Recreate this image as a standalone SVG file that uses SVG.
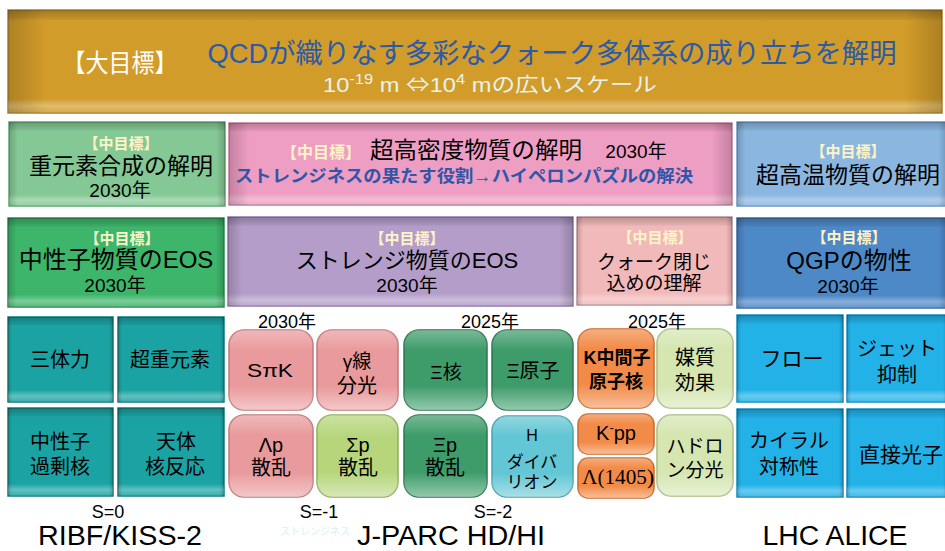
<svg xmlns="http://www.w3.org/2000/svg" width="945" height="551" viewBox="0 0 945 551">
<defs>
<linearGradient id="bv" x1="0" y1="0" x2="0" y2="1">
 <stop offset="0" stop-color="#000" stop-opacity="0.22"/>
 <stop offset="0.09" stop-color="#000" stop-opacity="0.06"/>
 <stop offset="0.12" stop-color="#fff" stop-opacity="0"/>
 <stop offset="0.86" stop-color="#fff" stop-opacity="0"/>
 <stop offset="0.93" stop-color="#fff" stop-opacity="0.32"/>
 <stop offset="1" stop-color="#fff" stop-opacity="0.12"/>
</linearGradient>
<linearGradient id="bh" x1="0" y1="0" x2="1" y2="0">
 <stop offset="0" stop-color="#000" stop-opacity="0.18"/>
 <stop offset="0.04" stop-color="#000" stop-opacity="0"/>
 <stop offset="0.96" stop-color="#000" stop-opacity="0"/>
 <stop offset="1" stop-color="#000" stop-opacity="0.18"/>
</linearGradient>
<linearGradient id="gl" x1="0" y1="0" x2="0" y2="1">
 <stop offset="0" stop-color="#fff" stop-opacity="0.3"/>
 <stop offset="0.25" stop-color="#fff" stop-opacity="0"/>
 <stop offset="0.7" stop-color="#fff" stop-opacity="0"/>
 <stop offset="1" stop-color="#fff" stop-opacity="0.45"/>
</linearGradient>
</defs>
<style>
.t{font-family:"Liberation Sans","Noto Sans CJK JP",sans-serif;text-anchor:middle;fill:#000}
.s{font-family:"Liberation Serif","Noto Sans CJK JP",serif;text-anchor:middle;fill:#000}
.cjk{font-family:"Noto Sans CJK JP",sans-serif}
.mid{font-weight:bold;fill:#FFF4C8;font-size:15px}
.bv{fill:url(#bv)}
.bh{fill:url(#bh)}
.gl{fill:url(#gl)}
.sq{stroke-width:1.5}
.rb{stroke-width:1.5}
.pink{fill:#E99A9C;stroke:#C27779}
.dg{fill:#3E9C6B;stroke:#2B7650}
.lg{fill:#B7D67C;stroke:#8FAF57}
.cy{fill:#62C6D4;stroke:#43A2B0}
.or{fill:#F28B48;stroke:#C96A2C}
.pg{fill:#D5E6B1;stroke:#A6BC82}
.teal{fill:#1BA3A3;stroke:#0F7B7B}
.sky{fill:#22B2E8;stroke:#168DBE}
</style>

<g id="banner">
 <rect x="8" y="10" width="934" height="103" fill="#D29C2A" stroke="#A8802A" stroke-width="1.5"/>
 <rect x="8" y="10" width="934" height="103" class="bv"/>
 <rect x="8" y="10" width="934" height="103" class="bh"/>
 <text class="t" x="120" y="72" font-size="25" style="fill:#fff" textLength="115" lengthAdjust="spacingAndGlyphs">【大目標】</text>
 <text class="t" x="552" y="63" font-size="27" style="fill:#2A5AA8" textLength="689" lengthAdjust="spacingAndGlyphs">QCDが織りなす多彩なクォーク多体系の成り立ちを解明</text>
 <text class="t" x="490" y="92" font-size="20" style="fill:#E6F3EE" textLength="334" lengthAdjust="spacingAndGlyphs">10<tspan font-size="14" dy="-8">-19</tspan><tspan dy="8"> m </tspan><tspan class="cjk">⇔</tspan><tspan>10</tspan><tspan font-size="14" dy="-8">4</tspan><tspan dy="8"> mの広いスケール</tspan></text>
</g>

<g id="goal-heavy">
 <rect x="9" y="122" width="216" height="84" fill="#84C895" stroke="#5EA570" stroke-width="1.5"/>
 <rect x="9" y="122" width="216" height="84" class="bv"/>
 <rect x="9" y="122" width="216" height="84" class="bh"/>
 <text class="t mid" x="121" y="149">【中目標】</text>
 <text class="t" x="121" y="174" font-size="23">重元素合成の解明</text>
 <text class="t" x="120" y="197" font-size="19">2030年</text>
</g>

<g id="goal-dense">
 <rect x="229" y="123" width="503" height="82" fill="#EE9DC3" stroke="#C27A98" stroke-width="1.5"/>
 <rect x="229" y="123" width="503" height="82" class="bv"/>
 <rect x="229" y="123" width="503" height="82" class="bh"/>
 <text class="t mid" x="321" y="158" style="font-size:16px">【中目標】</text>
 <text class="t" x="476" y="158" font-size="23" textLength="212" lengthAdjust="spacingAndGlyphs">超高密度物質の解明</text>
 <text class="t" x="636" y="158" font-size="19">2030年</text>
 <text class="t" x="464" y="182" font-size="17" font-weight="bold" style="fill:#2F56A8" textLength="458" lengthAdjust="spacingAndGlyphs">ストレンジネスの果たす役割→ハイペロンパズルの解決</text>
</g>

<g id="goal-hot">
 <rect x="737" y="122" width="210" height="84" fill="#8BB6E0" stroke="#6A95C0" stroke-width="1.5"/>
 <rect x="737" y="122" width="210" height="84" class="bv"/>
 <rect x="737" y="122" width="210" height="84" class="bh"/>
 <text class="t mid" x="848" y="157">【中目標】</text>
 <text class="t" x="848" y="183" font-size="23">超高温物質の解明</text>
</g>

<g id="goal-neutron">
 <rect x="8" y="218" width="216" height="89" fill="#3DB56A" stroke="#2B8C50" stroke-width="1.5"/>
 <rect x="8" y="218" width="216" height="89" class="bv"/>
 <rect x="8" y="218" width="216" height="89" class="bh"/>
 <text class="t mid" x="122" y="244">【中目標】</text>
 <text class="t" x="116" y="268" font-size="24">中性子物質のEOS</text>
 <text class="t" x="115" y="292" font-size="19">2030年</text>
</g>

<g id="goal-strange">
 <rect x="228" y="217" width="345" height="89" fill="#B49DC9" stroke="#8E77A6" stroke-width="1.5"/>
 <rect x="228" y="217" width="345" height="89" class="bv"/>
 <rect x="228" y="217" width="345" height="89" class="bh"/>
 <text class="t mid" x="407" y="244">【中目標】</text>
 <text class="t" x="407" y="268" font-size="22">ストレンジ物質のEOS</text>
 <text class="t" x="407" y="292" font-size="19">2030年</text>
</g>

<g id="goal-confine">
 <rect x="577" y="217" width="155" height="88" fill="#F2B9BA" stroke="#B89294" stroke-width="1.5"/>
 <rect x="577" y="217" width="155" height="88" class="bv"/>
 <rect x="577" y="217" width="155" height="88" class="bh"/>
 <text class="t mid" x="655" y="243">【中目標】</text>
 <text class="t" x="654" y="269" font-size="19">クォーク閉じ</text>
 <text class="t" x="654" y="290" font-size="19">込めの理解</text>
</g>

<g id="goal-qgp">
 <rect x="737" y="218" width="210" height="90" fill="#4D88C7" stroke="#3A6CA3" stroke-width="1.5"/>
 <rect x="737" y="218" width="210" height="90" class="bv"/>
 <rect x="737" y="218" width="210" height="90" class="bh"/>
 <text class="t mid" x="849" y="243">【中目標】</text>
 <text class="t" x="849" y="269" font-size="24">QGPの物性</text>
 <text class="t" x="848" y="293" font-size="19">2030年</text>
</g>

<g id="sq-3body">
 <rect x="8" y="317" width="105" height="85" class="teal sq"/>
 <rect x="8" y="317" width="105" height="85" class="bv"/>
 <rect x="8" y="317" width="105" height="85" class="bh"/>
 <text class="t" x="60" y="367" font-size="20">三体力</text>
</g>
<g id="sq-superheavy">
 <rect x="118" y="317" width="106" height="85" class="teal sq"/>
 <rect x="118" y="317" width="106" height="85" class="bv"/>
 <rect x="118" y="317" width="106" height="85" class="bh"/>
 <text class="t" x="170" y="367" font-size="20">超重元素</text>
</g>
<g id="sq-nrich">
 <rect x="8" y="408" width="105" height="88" class="teal sq"/>
 <rect x="8" y="408" width="105" height="88" class="bv"/>
 <rect x="8" y="408" width="105" height="88" class="bh"/>
 <text class="t" x="60" y="449" font-size="20">中性子</text>
 <text class="t" x="60" y="474" font-size="20">過剰核</text>
</g>
<g id="sq-astro">
 <rect x="118" y="408" width="106" height="88" class="teal sq"/>
 <rect x="118" y="408" width="106" height="88" class="bv"/>
 <rect x="118" y="408" width="106" height="88" class="bh"/>
 <text class="t" x="176" y="449" font-size="20">天体</text>
 <text class="t" x="175" y="474" font-size="20">核反応</text>
</g>

<g id="rb-spik">
 <rect x="229" y="330" width="84" height="80" rx="15" class="pink rb"/>
 <rect x="229" y="330" width="84" height="80" rx="15" class="gl"/>
 <text class="t" x="270" y="377" font-size="18" textLength="46" lengthAdjust="spacingAndGlyphs">SπK</text>
</g>
<g id="rb-gamma">
 <rect x="317" y="330" width="81" height="80" rx="15" class="pink rb"/>
 <rect x="317" y="330" width="81" height="80" rx="15" class="gl"/>
 <text class="t" x="357" y="368" font-size="19">γ線</text>
 <text class="t" x="357" y="393" font-size="20">分光</text>
</g>
<g id="rb-xinuc">
 <rect x="404" y="330" width="83" height="80" rx="15" class="dg rb"/>
 <rect x="404" y="330" width="83" height="80" rx="15" class="gl"/>
 <text class="t" x="446" y="379" font-size="19">Ξ核</text>
</g>
<g id="rb-xiatom">
 <rect x="492" y="330" width="81" height="80" rx="15" class="dg rb"/>
 <rect x="492" y="330" width="81" height="80" rx="15" class="gl"/>
 <text class="t" x="533" y="378" font-size="20">Ξ原子</text>
</g>
<g id="rb-lp">
 <rect x="229" y="415" width="84" height="82" rx="15" class="pink rb"/>
 <rect x="229" y="415" width="84" height="82" rx="15" class="gl"/>
 <text class="t" x="271" y="452" font-size="20">Λp</text>
 <text class="t" x="271" y="475" font-size="20">散乱</text>
</g>
<g id="rb-sp">
 <rect x="317" y="415" width="81" height="82" rx="15" class="lg rb"/>
 <rect x="317" y="415" width="81" height="82" rx="15" class="gl"/>
 <text class="t" x="358" y="452" font-size="20">Σp</text>
 <text class="t" x="358" y="475" font-size="20">散乱</text>
</g>
<g id="rb-xp">
 <rect x="404" y="415" width="83" height="82" rx="15" class="dg rb"/>
 <rect x="404" y="415" width="83" height="82" rx="15" class="gl"/>
 <text class="t" x="445" y="452" font-size="20">Ξp</text>
 <text class="t" x="445" y="475" font-size="20">散乱</text>
</g>
<g id="rb-h">
 <rect x="492" y="416" width="81" height="81" rx="15" class="cy rb"/>
 <rect x="492" y="416" width="81" height="81" rx="15" class="gl"/>
 <text class="t" x="532" y="441" font-size="16">H</text>
 <text class="t" x="532" y="468" font-size="17">ダイバ</text>
 <text class="t" x="532" y="488" font-size="17">リオン</text>
</g>
<g id="rb-kmeson">
 <rect x="578" y="329" width="76" height="79" rx="14" class="or rb"/>
 <rect x="578" y="329" width="76" height="79" rx="14" class="gl"/>
 <text class="t" x="617" y="364" font-size="18" font-weight="bold">K中間子</text>
 <text class="t" x="616" y="388" font-size="18" font-weight="bold">原子核</text>
</g>
<g id="rb-kpp">
 <rect x="578" y="414" width="76" height="40" rx="10" class="or rb"/>
 <rect x="578" y="414" width="76" height="40" rx="10" class="gl"/>
 <text class="t" x="616" y="440" font-size="20">K<tspan font-size="13" dy="-8">-</tspan><tspan dy="8">pp</tspan></text>
</g>
<g id="rb-l1405">
 <rect x="578" y="458" width="76" height="40" rx="10" class="or rb"/>
 <rect x="578" y="458" width="76" height="40" rx="10" class="gl"/>
 <text class="s" x="618" y="484" font-size="21" textLength="72" lengthAdjust="spacingAndGlyphs">Λ(1405)</text>
</g>
<g id="rb-medium">
 <rect x="657" y="329" width="76" height="79" rx="14" class="pg rb"/>
 <rect x="657" y="329" width="76" height="79" rx="14" class="gl"/>
 <text class="t" x="695" y="365" font-size="20">媒質</text>
 <text class="t" x="695" y="390" font-size="20">効果</text>
</g>
<g id="rb-hadron">
 <rect x="657" y="415" width="76" height="81" rx="14" class="pg rb"/>
 <rect x="657" y="415" width="76" height="81" rx="14" class="gl"/>
 <text class="t" x="695" y="453" font-size="19">ハドロ</text>
 <text class="t" x="695" y="477" font-size="19">ン分光</text>
</g>

<g id="sq-flow">
 <rect x="737" y="315" width="106" height="87" class="sky sq"/>
 <rect x="737" y="315" width="106" height="87" class="bv"/>
 <rect x="737" y="315" width="106" height="87" class="bh"/>
 <text class="t" x="792" y="366" font-size="21">フロー</text>
</g>
<g id="sq-jet">
 <rect x="847" y="315" width="100" height="87" class="sky sq"/>
 <rect x="847" y="315" width="100" height="87" class="bv"/>
 <rect x="847" y="315" width="100" height="87" class="bh"/>
 <text class="t" x="897" y="356" font-size="20">ジェット</text>
 <text class="t" x="897" y="382" font-size="20">抑制</text>
</g>
<g id="sq-chiral">
 <rect x="737" y="409" width="106" height="88" class="sky sq"/>
 <rect x="737" y="409" width="106" height="88" class="bv"/>
 <rect x="737" y="409" width="106" height="88" class="bh"/>
 <text class="t" x="789" y="448" font-size="20">カイラル</text>
 <text class="t" x="789" y="474" font-size="20">対称性</text>
</g>
<g id="sq-photon">
 <rect x="847" y="409" width="100" height="88" class="sky sq"/>
 <rect x="847" y="409" width="100" height="88" class="bv"/>
 <rect x="847" y="409" width="100" height="88" class="bh"/>
 <text class="t" x="901" y="462" font-size="21">直接光子</text>
</g>

<g id="labels">
 <text class="t" x="287" y="328" font-size="18">2030年</text>
 <text class="t" x="490" y="328" font-size="18">2025年</text>
 <text class="t" x="657" y="328" font-size="18">2025年</text>
 <text class="t" x="108" y="518" font-size="18">S=0</text>
 <text class="t" x="319" y="518" font-size="18">S=-1</text>
 <text class="t" x="493" y="518" font-size="18">S=-2</text>
 <text class="t" x="315" y="535" font-size="10" style="fill:#D8EFF3">ストレンジネス</text>
 <text class="t" x="120" y="545" font-size="27" textLength="164" lengthAdjust="spacingAndGlyphs">RIBF/KISS-2</text>
 <text class="t" x="451" y="545" font-size="27" textLength="188" lengthAdjust="spacingAndGlyphs">J-PARC HD/HI</text>
 <text class="t" x="835" y="545" font-size="27" textLength="145" lengthAdjust="spacingAndGlyphs">LHC ALICE</text>
</g>
<g id="connectors"/>
</svg>
